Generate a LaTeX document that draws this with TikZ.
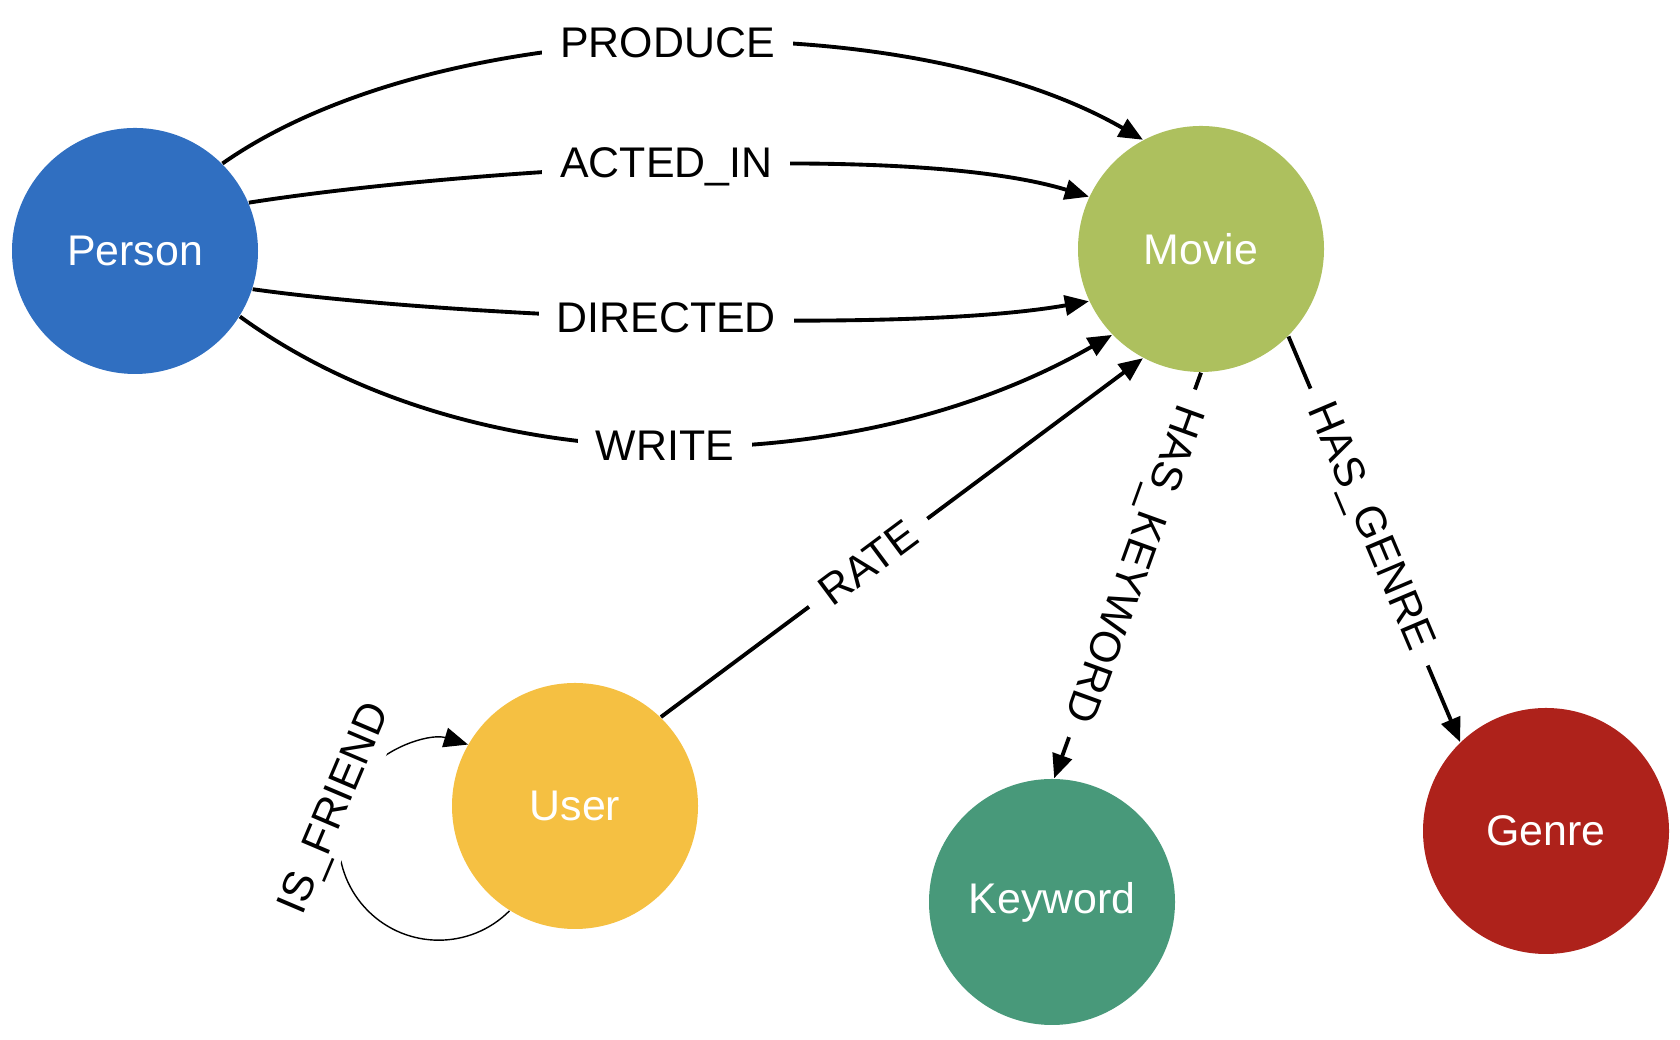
\documentclass[tikz,border=0pt]{standalone}
\usepackage{fontspec}
\setmainfont{Liberation Sans}
\usetikzlibrary{arrows.meta}

\definecolor{personblue}{RGB}{48,111,193}
\definecolor{moviegreen}{RGB}{173,192,94}
\definecolor{useryellow}{RGB}{245,192,66}
\definecolor{keywordgreen}{RGB}{72,153,122}
\definecolor{genrered}{RGB}{174,34,27}

\tikzset{
	entity/.style={circle, minimum size=24.6mm, inner sep=0pt, text=white, font=\fontsize{12.2}{14}\selectfont},
	rel/.style={line width=1.1pt, -{Triangle[length=2.4mm, width=2mm]}},
	lbl/.style={fill=white, inner xsep=1.8mm, inner ysep=0.6mm, font=\fontsize{12.2}{14}\selectfont}
}

\begin{document}
\begin{tikzpicture}
	\useasboundingbox (0, 0) rectangle (16.8, 10.4);
	
	\node [entity, fill=personblue] (person) at (1.35, 7.89) {Person};
	\node [entity, fill=moviegreen] (movie) at (12.01, 7.91) {Movie};
	\node [entity, fill=useryellow] (user) at (5.75, 2.34) {User};
	\node [entity, fill=keywordgreen] (keyword) at (10.52, 1.38) {Keyword};
	\node [entity, fill=genrered] (genre) at (15.46, 2.09) {Genre};
	
	\draw [rel] (person.45) to[out=35, in=150, looseness=0.75] node [lbl, pos=0.49] {PRODUCE} (movie.118);		% oben
	\draw [rel] (person.23) to[out=9, in=163, looseness=0.6] node [lbl, pos=0.495] {ACTED\_IN} (movie.155);
	\draw [rel] (person.-18) to[out=-8, in=190, looseness=0.6] node [lbl, pos=0.495] {DIRECTED} (movie.205);
	\draw [rel] (person.-32) to[out=-36, in=210, looseness=0.86] node [lbl, pos=0.495] {WRITE} (movie.224);	% unten
	
	\draw [rel] (user.46) -- node [lbl, sloped, pos=0.43] {RATE} (movie.242);
	\draw [rel] (movie.270) -- node [lbl, sloped, allow upside down, pos=0.47] {HAS\_KEYWORD} (keyword.89);
	\draw [rel] (movie.-45) -- node [lbl, sloped, pos=0.47] {HAS\_GENRE} (genre.134);
	
	\draw [line width=0.4pt, -{Triangle[length=2.4mm, width=2mm]}] (user.238) arc[start angle=-45, end angle=-287, radius=1cm];	% Schleife
	\node [lbl, rotate=67] (friend) at (3.36, 2.31) {IS\_FRIEND};
\end{tikzpicture}
\end{document}
